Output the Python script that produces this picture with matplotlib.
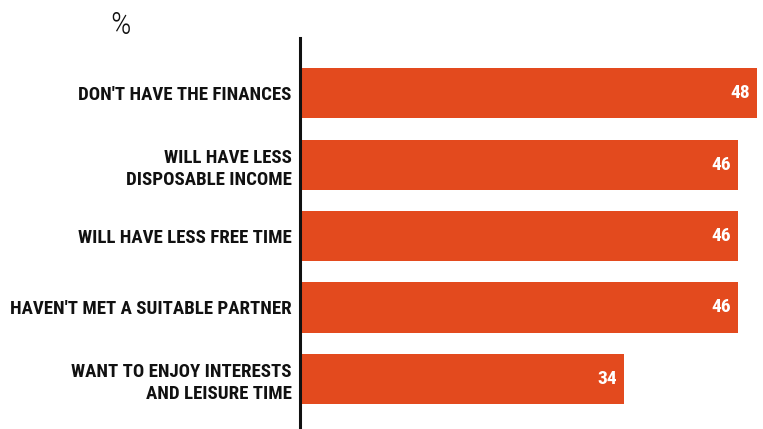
import os
import matplotlib
matplotlib.use("Agg")
import matplotlib.pyplot as plt
from matplotlib import font_manager
from matplotlib.font_manager import FontProperties

categories = [
    "DON'T HAVE THE FINANCES",
    "WILL HAVE LESS\nDISPOSABLE INCOME",
    "WILL HAVE LESS FREE TIME",
    "HAVEN'T MET A SUITABLE PARTNER",
    "WANT TO ENJOY INTERESTS\nAND LEISURE TIME",
]
values = [48, 46, 46, 46, 34]
unit_label = "%"

# look for a condensed / narrow bold font
cands = []
for f in font_manager.fontManager.ttflist:
    fn = f.fname.lower()
    if ("condensed" in fn or "narrow" in fn or f.stretch in ("condensed", "semi-condensed")) \
            and f.weight in ("bold", 700, "semibold", 600):
        cands.append(f)
found = None
for pref in ["robotocondensed", "liberationsansnarrow", "dejavusanscondensed", "opensanscondensed"]:
    for f in cands:
        if pref in f.fname.lower().replace("-", "").replace("_", ""):
            found = f
            break
    if found:
        break
if found is None and cands:
    found = cands[0]

if found is not None:
    lab_fp = FontProperties(fname=found.fname, size=13.6)
    val_fp = FontProperties(fname=found.fname, size=14)
    reg = found.fname.replace("Bold", "Light")
    if not os.path.exists(reg):
        reg = found.fname.replace("Bold", "Regular")
    if os.path.exists(reg):
        pct_fp = FontProperties(fname=reg, size=23)
    else:
        pct_fp = FontProperties(family="DejaVu Sans", size=17)
else:
    lab_fp = FontProperties(family="DejaVu Sans", weight="bold", size=10)
    val_fp = FontProperties(family="DejaVu Sans", weight="bold", size=11)
    pct_fp = FontProperties(family="DejaVu Sans", size=17)

BAR = "#E34A1E"
W, H = 763, 429
fig = plt.figure(figsize=(W / 100, H / 100), dpi=100)
ax = fig.add_axes([300 / W, 0, (757 - 300) / W, 1 - 38 / H])

pos = list(range(len(values)))
ax.barh(pos, values, height=0.7, color=BAR, zorder=2)
ax.set_xlim(0, 48)
ax.set_ylim(4.70, -0.77)

for s in ["top", "right", "bottom"]:
    ax.spines[s].set_visible(False)
ax.spines["left"].set_linewidth(2.2)
ax.spines["left"].set_color("#111111")
ax.spines["left"].set_zorder(3)
ax.set_xticks([])
ax.set_yticks(pos)
ax.set_yticklabels(categories, fontproperties=lab_fp, color="#111111", linespacing=1.3)
ax.tick_params(axis="y", length=0, pad=6)
for lab in ax.get_yticklabels():
    lab.set_horizontalalignment("right")
    lab.set_multialignment("right")

for p, v in zip(pos, values):
    ax.text(v - 0.75, p, f"{v}", ha="right", va="center", color="white",
            fontproperties=val_fp, zorder=4)

fig.text(121 / W, 1 - 25 / H, unit_label, ha="center", va="center",
         fontproperties=pct_fp, color="#111111")

fig.savefig("out.png", dpi=100)
